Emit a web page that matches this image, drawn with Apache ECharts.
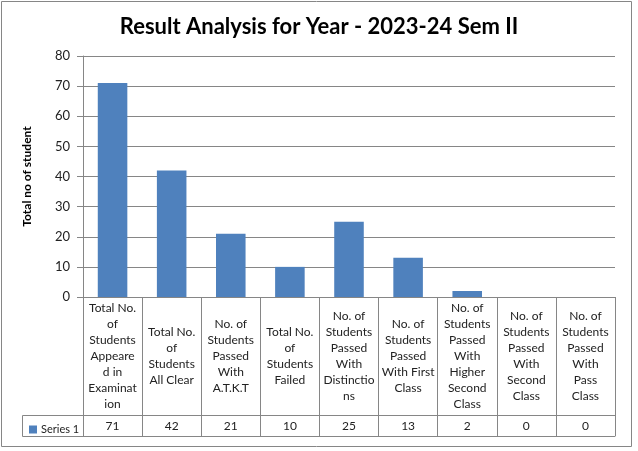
<!DOCTYPE html>
<html>
<head>
<meta charset="utf-8">
<script src="https://cdn.jsdelivr.net/npm/echarts@6/dist/echarts.min.js"></script>
<style>
  html, body { margin: 0; padding: 0; background: #fff; }
  #chart { width: 638px; height: 451px; }
</style>
</head>
<body>
<div id="chart"></div>
<script>
/* Result analysis bar chart with Excel-style data table */

const categories = [
  "Total No.\nof\nStudents\nAppeare\nd in\nExaminat\nion",
  "Total No.\nof\nStudents\nAll Clear",
  "No. of\nStudents\nPassed\nWith\nA.T.K.T",
  "Total No.\nof\nStudents\nFailed",
  "No. of\nStudents\nPassed\nWith\nDistinctio\nns",
  "No. of\nStudents\nPassed\nWith First\nClass",
  "No. of\nStudents\nPassed\nWith\nHigher\nSecond\nClass",
  "No. of\nStudents\nPassed\nWith\nSecond\nClass",
  "No. of\nStudents\nPassed\nWith\nPass\nClass"
];
const series1 = [71, 42, 21, 10, 25, 13, 2, 0, 0];
const yTicks = { min: 0, max: 80, interval: 10 };

const FONT = "Lato, 'Open Sans', sans-serif";
const GRID_COLOR = "#868686";
const BAR_COLOR = "#4F81BD";

const chart = echarts.init(document.getElementById("chart"), null, { renderer: "canvas" });

chart.setOption({
  animation: false,
  textStyle: { fontFamily: FONT },
  title: {
    text: "Result Analysis for Year - 2023-24 Sem II",
    left: "center",
    top: 11,
    textStyle: { fontSize: 22, fontWeight: "bold", color: "#000", fontFamily: FONT }
  },
  grid: { left: 83, right: 23, top: 56, bottom: 154 },
  legend: {
    left: 24,
    top: 419,
    itemWidth: 8,
    itemHeight: 8,
    itemGap: 4,
    icon: "rect",
    textStyle: { fontSize: 11, color: "#222", fontFamily: FONT, padding: [0, 0, 0, -1] },
    data: ["Series 1"]
  },
  xAxis: [
    {
      type: "category",
      data: categories,
      axisLine: { show: true, lineStyle: { color: GRID_COLOR } },
      axisTick: { show: true, interval: 0, length: 139, lineStyle: { color: GRID_COLOR } },
      axisLabel: {
        interval: 0,
        margin: 59,
        verticalAlign: "middle",
        lineHeight: 16,
        fontSize: 12,
        color: "#222",
        fontFamily: FONT
      }
    },
    {
      type: "category",
      data: series1.map(String),
      position: "bottom",
      offset: 118,
      axisLine: { show: true, lineStyle: { color: GRID_COLOR } },
      axisTick: { show: false },
      axisLabel: {
        interval: 0,
        margin: 11,
        verticalAlign: "middle",
        fontSize: 12,
        color: "#222",
        fontFamily: FONT
      }
    },
    {
      type: "category",
      data: series1.map(String),
      position: "bottom",
      offset: 139,
      axisLine: { show: true, lineStyle: { color: GRID_COLOR } },
      axisTick: { show: false },
      axisLabel: { show: false }
    }
  ],
  yAxis: {
    type: "value",
    min: yTicks.min,
    max: yTicks.max,
    interval: yTicks.interval,
    name: "Total no of student",
    nameLocation: "middle",
    nameRotate: 90,
    nameGap: 50,
    nameTextStyle: { fontSize: 12, fontWeight: "bold", color: "#000", fontFamily: FONT },
    axisLine: { show: true, lineStyle: { color: GRID_COLOR } },
    axisTick: { show: true, length: 6, lineStyle: { color: GRID_COLOR } },
    axisLabel: { fontSize: 13, color: "#222", margin: 13, fontFamily: FONT },
    splitLine: { show: true, lineStyle: { color: GRID_COLOR, width: 1 } }
  },
  series: [{
    name: "Series 1",
    type: "bar",
    data: series1,
    barWidth: "50%",
    itemStyle: { color: BAR_COLOR }
  }],
  graphic: [
    // outer chart border
    { type: "rect", shape: { x: 1.5, y: 1.5, width: 630, height: 445 },
      style: { fill: null, stroke: GRID_COLOR, lineWidth: 1 }, silent: true },
    // legend cell of the data table
    { type: "rect", shape: { x: 22.5, y: 415.5, width: 61, height: 21 },
      style: { fill: null, stroke: GRID_COLOR, lineWidth: 1 }, silent: true }
  ]
});
</script>
</body>
</html>
